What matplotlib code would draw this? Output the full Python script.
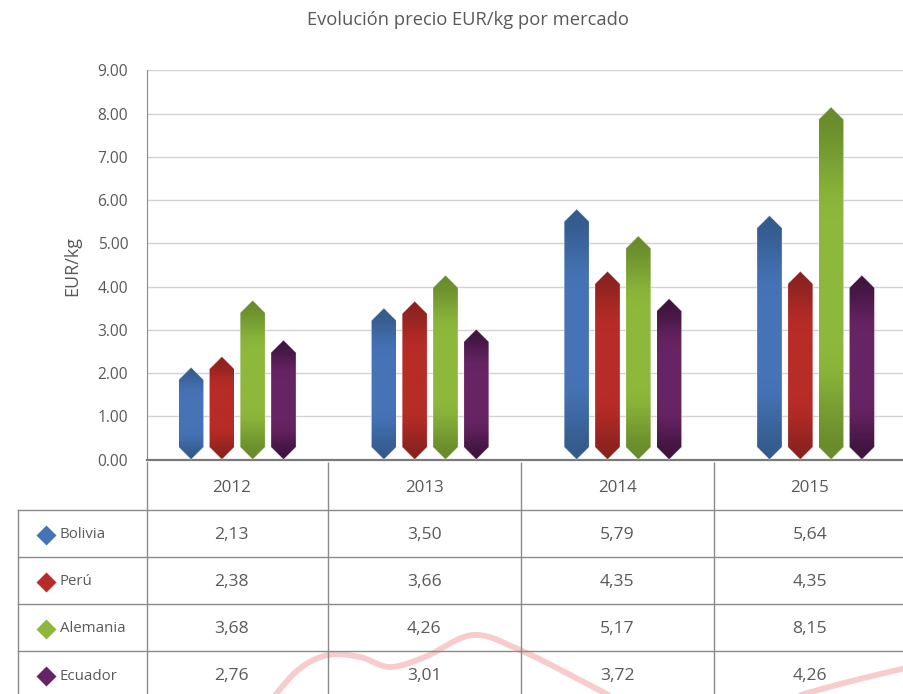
import numpy as np
import matplotlib
matplotlib.use("Agg")
import matplotlib.pyplot as plt
from matplotlib.path import Path
from matplotlib.patches import PathPatch
from matplotlib.colors import to_rgb
from matplotlib.transforms import blended_transform_factory

plt.rcParams['font.family'] = ['Open Sans', 'DejaVu Sans']

# ---- data -------------------------------------------------------------
years = ['2012', '2013', '2014', '2015']
markets = ['Bolivia', 'Perú', 'Alemania', 'Ecuador']
bolivia = [2.13, 3.50, 5.79, 5.64]
peru = [2.38, 3.66, 4.35, 4.35]
alemania = [3.68, 4.26, 5.17, 8.15]
ecuador = [2.76, 3.01, 3.72, 4.26]
series = [bolivia, peru, alemania, ecuador]
y_ticks = [0, 1, 2, 3, 4, 5, 6, 7, 8, 9]

# ---- style ------------------------------------------------------------
dark_cols = ['#345b8c', '#8b2220', '#698c2c', '#3f143e']
mid_cols = ['#4673b6', '#b72c26', '#8db83b', '#672464']
text_col = '#595959'
line_col = '#8a8a8a'

W, H = 904, 694
fig = plt.figure(figsize=(W / 100, H / 100), dpi=100)

# full-figure layer in pixel units for the title, table and decoration
bg = fig.add_axes([0, 0, 1, 1], zorder=0)
bg.set_xlim(0, W)
bg.set_ylim(H, 0)
bg.axis('off')

# plot area
y0_px, y9_px, x_left = 459.5, 70.3, 147
ax = fig.add_axes([x_left / W, (H - y0_px) / H, (W - x_left) / W, (y0_px - y9_px) / H], zorder=1)
ax.patch.set_alpha(0)

cat_px = 192.8                     # pixels per category
first_center = 237.3               # pixel centre of the first group
xlim = ((x_left - first_center) / cat_px, (W - first_center) / cat_px)
ylim = (0, 9)
px_per_unit = (y0_px - y9_px) / 9.0

bar_w = 25 / cat_px
step = 30.8 / cat_px
offsets = [(j - 1.5) * step for j in range(len(series))]
tip = 12.5 / px_per_unit

# vertical shading profile: darker towards both ends
t = np.linspace(0, 1, 256)
edge = np.clip(np.minimum(t, 1 - t) / 0.32, 0, 1)
weight = edge * edge * (3 - 2 * edge)

for j, vals in enumerate(series):
    dk = np.array(to_rgb(dark_cols[j]))
    md = np.array(to_rgb(mid_cols[j]))
    grad = dk[None, :] + (md - dk)[None, :] * weight[:, None]
    img = np.repeat(grad[:, None, :], 4, axis=1)
    for i, v in enumerate(vals):
        xc = i + offsets[j]
        xl, xr = xc - bar_w / 2, xc + bar_w / 2
        verts = [(xc, 0), (xr, tip), (xr, v - tip), (xc, v), (xl, v - tip), (xl, tip), (xc, 0)]
        codes = [Path.MOVETO] + [Path.LINETO] * 5 + [Path.CLOSEPOLY]
        patch = PathPatch(Path(verts, codes), facecolor='none', edgecolor='none',
                          transform=ax.transData)
        ax.add_patch(patch)
        im = ax.imshow(img, extent=(xl, xr, 0, v), origin='lower', aspect='auto',
                       interpolation='bilinear', zorder=3)
        im.set_clip_path(patch)
        outline = PathPatch(Path(verts, codes), facecolor='none',
                            edgecolor=(1, 1, 1, 0.35), lw=0.6, zorder=4)
        ax.add_patch(outline)

ax.set_xlim(*xlim)
ax.set_ylim(*ylim)
ax.set_xticks([])
ax.set_yticks(y_ticks)
ax.set_yticklabels([f'{v:.2f}' for v in y_ticks])
ax.tick_params(axis='y', length=0, pad=13.5, labelsize=11.2, labelcolor=text_col)
ax.yaxis.grid(True, color='#d2d2d2', lw=1)
ax.set_axisbelow(True)
for s in ['top', 'right']:
    ax.spines[s].set_visible(False)
ax.spines['left'].set_color(line_col)
ax.spines['bottom'].set_color('#7a7a7a')
ax.spines['bottom'].set_linewidth(1.6)

# ---- titles -----------------------------------------------------------
bg.text(468, 20, 'Evolución precio EUR/kg por mercado', ha='center', va='center',
        fontsize=13.2, color=text_col)
bg.text(72, 266, 'EUR/kg', rotation=90, ha='center', va='center',
        fontsize=13, color=text_col)

# ---- data table below the plot -----------------------------------------
tr = blended_transform_factory(ax.transData, bg.transData)
header_top, header_bot = 461.5, 509.5
row_h = 47.2
row_lines = [header_bot + k * row_h for k in range(5)]
label_left = 18.5

# vertical rules between year columns
for i in range(len(years) - 1):
    bg.plot([i + 0.47, i + 0.47], [header_top, H], color=line_col, lw=1,
            transform=tr, zorder=3, solid_capstyle='butt')
bg.plot([x_left, x_left], [header_top, H], color=line_col, lw=1, zorder=3)
bg.plot([label_left, label_left], [header_bot, H], color=line_col, lw=1, zorder=3)
for yl in row_lines:
    bg.plot([label_left, W], [yl, yl], color=line_col, lw=1, zorder=3)

for i, yr in enumerate(years):
    bg.text(i - 0.03, 487.5, yr, transform=tr, ha='center', va='center',
            fontsize=12.2, color=text_col, zorder=4)

for j, (name, vals) in enumerate(zip(markets, series)):
    yc = header_bot + (j + 0.5) * row_h + 1.5
    bg.plot([46.5], [yc], marker='D', ms=10.5, color=mid_cols[j], mec='none', zorder=4)
    bg.text(60, yc, name, ha='left', va='center', fontsize=10.8, color=text_col, zorder=4)
    for i, v in enumerate(vals):
        bg.text(i - 0.03, yc, f'{v:.2f}'.replace('.', ','), transform=tr,
                ha='center', va='center', fontsize=12.6, color=text_col, zorder=4)

# ---- decorative ribbon behind the table ----------------------------------
def smooth(points, n=30):
    p = np.asarray(points, float)
    p = np.vstack([p[0], p, p[-1]])
    out = []
    for k in range(1, len(p) - 2):
        p0, p1, p2, p3 = p[k - 1], p[k], p[k + 1], p[k + 2]
        s = np.linspace(0, 1, n)[:, None]
        out.append(0.5 * ((2 * p1) + (-p0 + p2) * s + (2 * p0 - 5 * p1 + 4 * p2 - p3) * s ** 2
                          + (-p0 + 3 * p1 - 3 * p2 + p3) * s ** 3))
    return np.vstack(out)

ribbon_a = smooth([(268, 704), (298, 670), (328, 655), (360, 657), (390, 667),
                   (425, 657), (473, 635), (520, 650), (580, 680), (625, 704)])
ribbon_b = smooth([(770, 704), (840, 684), (910, 667)])
for rb in (ribbon_a, ribbon_b):
    bg.plot(rb[:, 0], rb[:, 1], color='#f8cccc', lw=4.2, solid_capstyle='round', zorder=1)

fig.savefig('out.png', dpi=100)
